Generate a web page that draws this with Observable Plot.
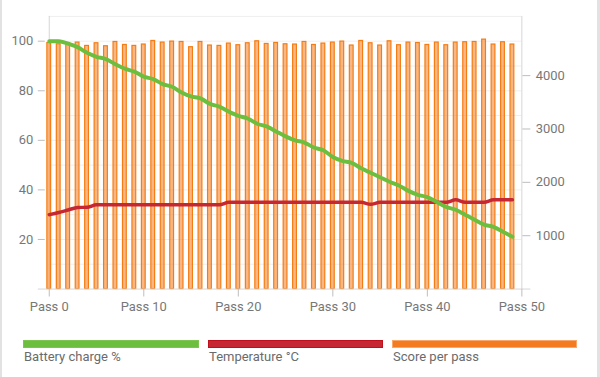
<!DOCTYPE html>
<html>
<head>
<meta charset="utf-8">
<script src="https://cdn.jsdelivr.net/npm/d3@7"></script>
<script src="https://cdn.jsdelivr.net/npm/@observablehq/plot@0.6"></script>
<style>
  html, body { margin: 0; padding: 0; background: #fff; }
  #card { position: relative; width: 600px; height: 377px; box-sizing: border-box;
          border-left: 2px solid #e2e2e2; border-right: 3px solid #e2e2e2; overflow: hidden;
          font-family: Roboto, "Noto Sans", sans-serif; }
  #chart { position: absolute; left: -2px; top: 0; }
  .leg { position: absolute; top: 340px; height: 8px; box-sizing: border-box; }
  .legtxt { position: absolute; top: 349px; font-size: 13px; color: #6b6b6b; }
</style>
</head>
<body>
<div id="card">
  <div id="chart"></div>
</div>
<script>
// ---- data ----
const passes = d3.range(0, 50);
const batteryCharge = [100, 100, 99, 97.6, 95.3, 93.7, 92.8, 90.7, 88.9, 87.7,
  85.7, 84.7, 82.7, 81.6, 79.3, 77.7, 76.9, 74.7, 73.6, 71.6,
  69.9, 68.8, 66.7, 65.6, 63.6, 61.6, 60, 59.1, 57.1, 56,
  53.3, 51.7, 50.9, 48.7, 46.9, 45.1, 43.3, 41.8, 39.6, 38,
  37.1, 35.1, 33.1, 32, 30, 28, 26, 25.1, 23.1, 21.1];
const temperature = [30, 30.9, 31.9, 32.9, 33, 34, 34, 34, 34, 34,
  34, 34, 34, 34, 34, 34, 34, 34, 34, 35,
  35, 35, 35, 35, 35, 35, 35, 35, 35, 35,
  35, 35, 35, 35, 34.2, 35, 35, 35, 35, 35,
  35, 35, 35, 36, 35, 35, 35, 36, 36, 36];
const scorePerPass = [4612, 4588, 4612, 4620, 4557, 4607, 4551, 4631, 4575, 4557,
  4583, 4650, 4620, 4638, 4631, 4533, 4631, 4564, 4557, 4601,
  4570, 4607, 4644, 4594, 4613, 4588, 4583, 4631, 4575, 4601,
  4620, 4638, 4564, 4650, 4607, 4564, 4644, 4570, 4620, 4612,
  4575, 4620, 4570, 4620, 4626, 4631, 4675, 4583, 4626, 4583];
const leftTicks = [20, 40, 60, 80, 100];
const rightTicks = [1000, 2000, 3000, 4000];
const xTicks = [0, 10, 20, 30, 40, 50];
const gridLines = [10, 20, 30, 40, 50, 60, 70, 80, 90, 100, 110];
const seriesNames = ["Battery charge %", "Temperature °C", "Score per pass"];
const seriesColors = ["#6cbf3e", "#c62833", "#f47b20"];

// right axis maps onto the left scale (dual axis)
const leftMax = 110, rightMax = 5110;
const k = leftMax / rightMax;

const grey = "#777";
const chart = Plot.plot({
  width: 600,
  height: 330,
  marginLeft: 49,
  marginRight: 76,
  marginTop: 16,
  marginBottom: 40,
  style: { fontFamily: "Roboto, 'Noto Sans', sans-serif", fontSize: "13px", color: grey, background: "transparent" },
  x: { type: "linear", domain: [0, 50] },
  y: { domain: [0, leftMax] },
  marks: [
    Plot.ruleY(gridLines, { stroke: "#efefef", strokeWidth: 1 }),
    Plot.ruleX([0, 50], { stroke: "#d6d6d6", strokeWidth: 1 }),
    Plot.rectY(passes, {
      x1: d => d - 0.2, x2: d => d + 0.2,
      y1: 0, y2: d => scorePerPass[d] * k,
      fill: seriesColors[2], fillOpacity: 0.55,
      stroke: "#f57c12", strokeWidth: 1.2
    }),
    Plot.lineY(passes, { x: d => d, y: d => temperature[d], stroke: seriesColors[1], strokeWidth: 3.5, curve: "monotone-x" }),
    Plot.lineY(passes, { x: d => d, y: d => batteryCharge[d], stroke: seriesColors[0], strokeWidth: 4, curve: "monotone-x" }),
    Plot.ruleY([0], { stroke: "#d6d6d6", insetLeft: -11, insetRight: -9 }),
    Plot.axisY(leftTicks, { anchor: "left", tickSize: 7, tickPadding: 5, dx: -4, label: null, color: grey, stroke: "#bdbdbd" }),
    Plot.axisY(rightTicks.map(v => v * k), { anchor: "right", tickSize: 8, tickPadding: 6, label: null, tickFormat: d => String(Math.round(d / k)), color: grey, stroke: "#bdbdbd" }),
    Plot.axisX(xTicks, { anchor: "bottom", tickSize: 8, tickPadding: 5, label: null, tickFormat: d => "Pass " + d, color: grey, stroke: "#bdbdbd" })
  ]
});
document.getElementById("chart").appendChild(chart);

// legend (HTML below the plot)
const card = document.getElementById("card");
const legX = [[21, 197], [206, 381], [390, 575]];
const legBorder = ["#7cc64f", "#c0101c", "#f9a86a"];
seriesNames.forEach((name, i) => {
  const sw = document.createElement("div");
  sw.className = "leg";
  sw.style.left = legX[i][0] + "px";
  sw.style.width = (legX[i][1] - legX[i][0]) + "px";
  sw.style.background = seriesColors[i];
  sw.style.border = "1px solid " + legBorder[i];
  card.appendChild(sw);
  const t = document.createElement("div");
  t.className = "legtxt";
  t.style.left = (legX[i][0] + 1) + "px";
  t.textContent = name;
  card.appendChild(t);
});
</script>
</body>
</html>
